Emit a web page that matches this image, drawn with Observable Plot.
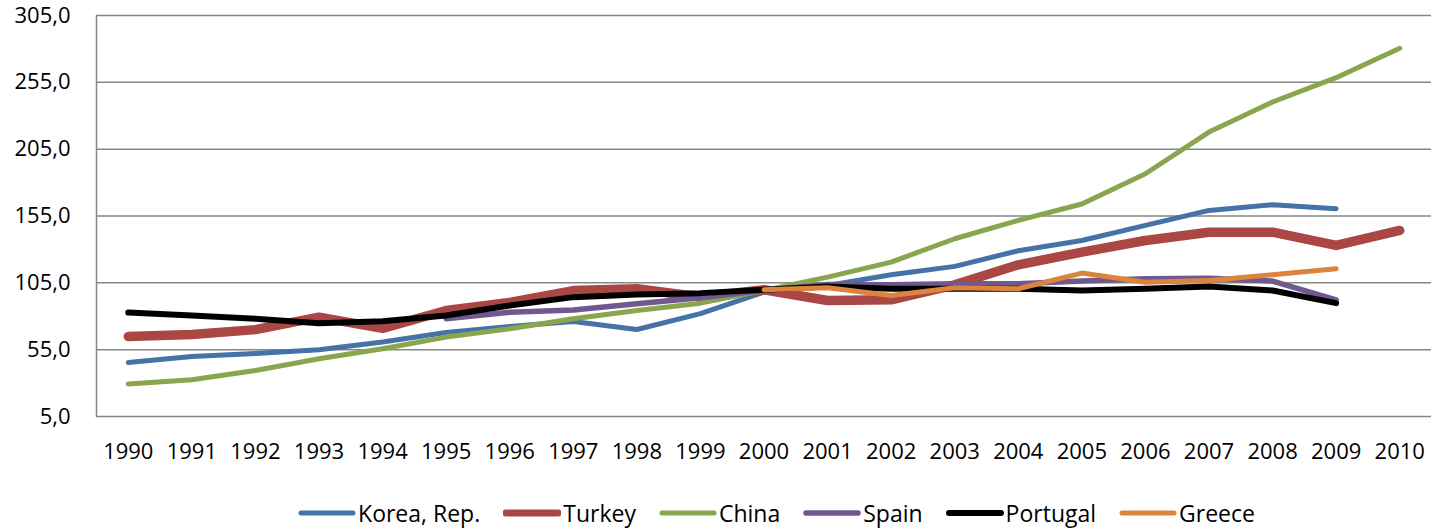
<!DOCTYPE html>
<html>
<head>
<meta charset="utf-8">
<script src="https://cdn.jsdelivr.net/npm/d3@7"></script>
<script src="https://cdn.jsdelivr.net/npm/@observablehq/plot@0.6"></script>
<style>
  html, body { margin: 0; padding: 0; background: #fff; }
  body { width: 1431px; height: 532px; overflow: hidden; font-family: "Open Sans", sans-serif; }
  #legend { display: flex; justify-content: center; align-items: center; gap: 23px; font-size: 23px; color: #000; margin-top: 31px; padding-left: 122px; }
  #legend .item { display: flex; align-items: center; gap: 2px; }
</style>
</head>
<body>
<div id="chart"></div>
<div id="legend"></div>
<script>
const years = ["1990","1991","1992","1993","1994","1995","1996","1997","1998","1999","2000","2001","2002","2003","2004","2005","2006","2007","2008","2009","2010"];
const yTicks = [5, 55, 105, 155, 205, 255, 305];
const seriesNames = ["Korea, Rep.", "Turkey", "China", "Spain", "Portugal", "Greece"];
const korea    = [45.4, 49.9, 52.2, 54.9, 60.8, 67.9, 72.4, 76.0, 70.1, 82.0, 98.0, 103.0, 111.0, 117.3, 129.0, 136.7, 148.0, 159.2, 163.5, 160.5, null];
const turkey   = [64.9, 66.4, 70.0, 79.3, 70.9, 84.3, 90.3, 99.2, 100.6, 94.4, 99.8, 91.8, 92.3, 103.5, 118.5, 128.0, 136.7, 142.9, 142.9, 133.0, 144.2];
const china    = [29.4, 32.5, 39.4, 48.2, 55.7, 64.4, 70.6, 78.1, 84.3, 89.8, 99.3, 109.3, 120.5, 138.0, 151.7, 164.0, 186.6, 217.8, 240.3, 258.5, 280.5];
const spain    = [null, null, null, null, null, 78.1, 83.0, 84.7, 89.3, 93.8, 99.3, 103.8, 103.6, 104.3, 104.3, 106.3, 108.0, 108.5, 106.3, 92.3, null];
const portugal = [82.8, 80.6, 78.1, 74.8, 76.3, 80.6, 88.0, 94.3, 96.3, 97.3, 99.8, 102.3, 100.6, 100.6, 100.6, 99.3, 100.6, 102.3, 99.3, 89.8, null];
const greece   = [null, null, null, null, null, null, null, null, null, null, 99.8, 101.3, 95.6, 101.3, 100.6, 112.3, 105.5, 106.8, 111.0, 115.5, null];

const seriesValues = [korea, turkey, china, spain, portugal, greece];
const colors = ["#4572A7", "#AA4643", "#89A54E", "#71588F", "#000000", "#DB843D"];
const widths = [5, 9.5, 5, 5.5, 6, 5];

const lineMarks = seriesNames.map((name, i) => {
  const rows = years.map((yr, j) => ({year: yr, value: seriesValues[i][j]}));
  return Plot.line(rows, {
    x: "year", y: "value",
    stroke: colors[i], strokeWidth: widths[i],
    strokeLinecap: "round", strokeLinejoin: "round",
    defined: d => d.value != null
  });
});

const chart = Plot.plot({
  width: 1431,
  height: 466,
  marginLeft: 96,
  marginRight: 0,
  marginTop: 15,
  marginBottom: 50,
  style: {fontFamily: "'Open Sans', sans-serif", fontSize: "22px", color: "#000", background: "#fff"},
  x: {type: "point", domain: years, padding: 0.5, round: false, label: null},
  y: {domain: [5, 305], label: null},
  marks: [
    Plot.ruleY(yTicks, {stroke: "#868686", strokeWidth: 1.5, strokeOpacity: 1}),
    Plot.frame({anchor: "left", stroke: "#868686", strokeWidth: 1.5}),
    Plot.axisY(yTicks, {tickSize: 0, tickPadding: 26, tickFormat: d => d.toFixed(1).replace(".", ","), fill: "#000", fontSize: 22, label: null}),
    Plot.axisX({tickSize: 0, tickPadding: 27, fill: "#000", fontSize: 22, label: null}),
    ...lineMarks
  ]
});
document.getElementById("chart").appendChild(chart);

const legend = document.getElementById("legend");
seriesNames.forEach((name, i) => {
  const item = document.createElement("div");
  item.className = "item";
  const sw = Math.min(widths[i], 7);
  item.innerHTML = `<svg width="58" height="12"><line x1="3" y1="6" x2="55" y2="6" stroke="${colors[i]}" stroke-width="${sw}" stroke-linecap="round"/></svg><span>${name}</span>`;
  legend.appendChild(item);
});
</script>
</body>
</html>
